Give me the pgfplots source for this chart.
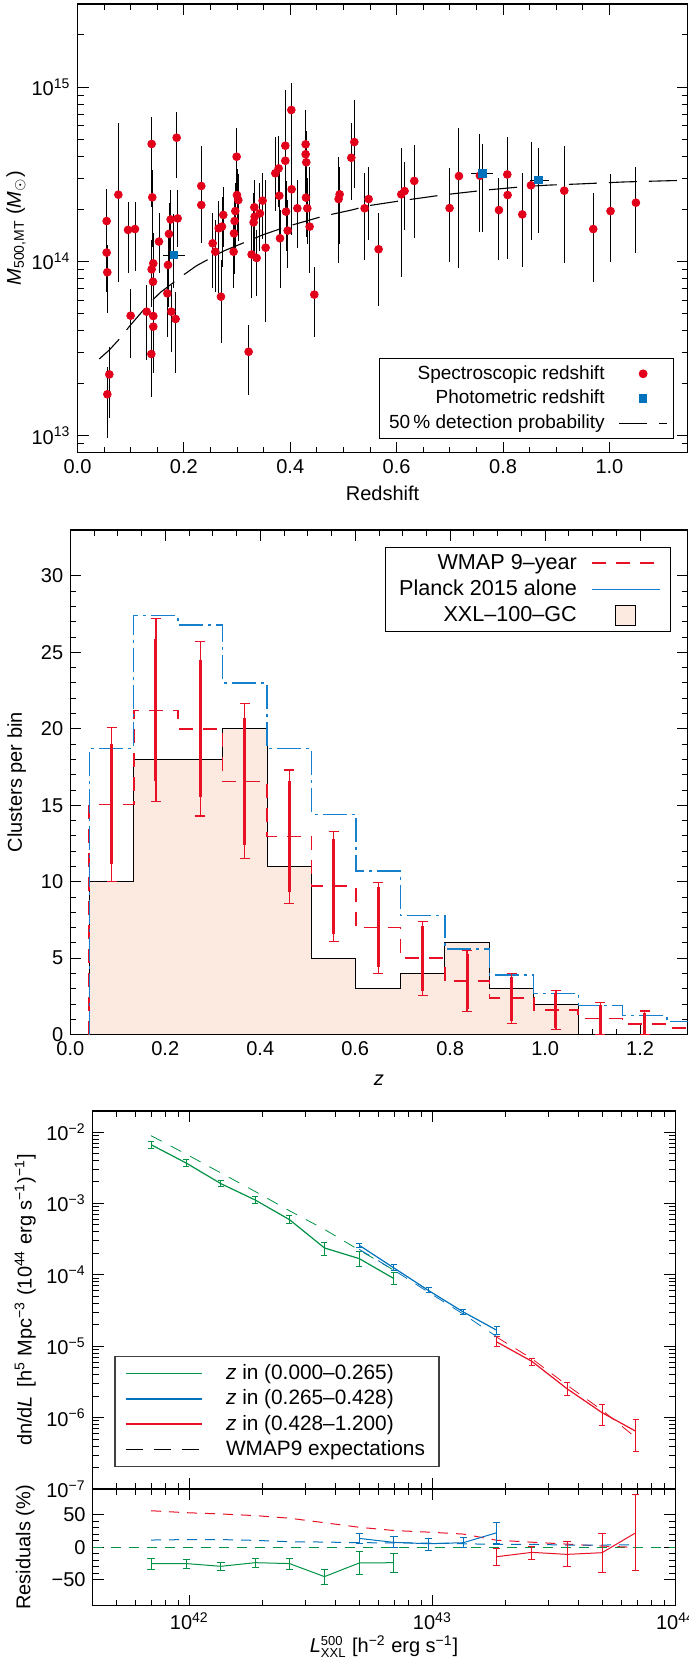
\documentclass[border=0pt]{standalone}
\usepackage{fontspec}
\setmainfont{Liberation Sans}
\usepackage{pgfplots}
\usepackage{pgfplotstable}
\pgfplotsset{compat=1.18}
\definecolor{cred}{RGB}{226,0,26}
\definecolor{cblue}{RGB}{0,114,188}
\definecolor{hblue}{RGB}{22,128,204}
\definecolor{cgreen}{RGB}{0,146,69}
\definecolor{peach}{RGB}{252,234,225}
\definecolor{rred}{RGB}{232,16,36}

\pgfplotstableread{
z lm lo hi
0.0548 14.232 14.094 14.416
0.0548 14.051 13.827 14.181
0.0560 13.938 13.702 14.094
0.0561 13.238 12.986 13.397
0.0598 13.352 13.100 13.511
0.0768 14.383 13.880 14.793
0.0950 14.181 13.932 14.339
0.1081 14.186 13.947 14.343
0.0999 13.689 13.444 13.844
0.1300 13.712 13.435 13.865
0.1394 14.674 14.314 14.827
0.1406 14.368 14.085 14.525
0.1425 13.989 13.779 14.161
0.1394 13.955 13.741 14.123
0.1419 13.884 13.655 14.008
0.1425 13.687 13.435 13.846
0.1425 13.626 13.358 13.779
0.1388 13.469 13.224 13.636
0.1532 14.114 13.932 14.280
0.1701 13.980 13.741 14.161
0.1720 14.158 13.970 14.337
0.1751 14.241 14.056 14.410
0.1689 13.817 13.568 13.970
0.1764 13.712 13.482 13.865
0.1845 13.670 13.358 13.827
0.1864 14.710 14.477 14.860
0.1883 14.247 14.085 14.410
0.2327 14.433 14.123 14.662
0.2327 14.324 14.104 14.520
0.2541 14.104 13.846 14.276
0.2591 14.056 13.827 14.238
0.2654 14.190 13.817 14.349
0.2716 14.200 13.970 14.370
0.2741 14.267 14.085 14.429
0.2697 13.798 13.530 14.008
0.2935 14.056 13.846 14.238
0.2942 14.161 13.930 14.330
0.2954 14.232 13.990 14.400
0.2967 14.289 14.080 14.450
0.2992 14.601 14.352 14.764
0.2998 14.381 14.170 14.530
0.3023 14.352 14.120 14.500
0.3217 13.482 13.234 13.636
0.3273 14.040 13.789 14.238
0.3311 14.224 14.000 14.390
0.3330 14.257 14.030 14.420
0.3324 14.311 14.100 14.470
0.3368 14.020 13.800 14.180
0.3430 14.276 14.060 14.450
0.3480 14.349 14.130 14.510
0.3537 14.079 13.655 14.467
0.3719 14.506 14.290 14.716
0.3781 14.534 14.310 14.720
0.3794 14.377 14.120 14.550
0.3807 14.133 13.846 14.295
0.3907 14.664 14.400 14.984
0.3907 14.578 14.300 14.770
0.3920 14.286 14.060 14.460
0.3951 14.177 13.960 14.350
0.4026 14.414 14.150 14.600
0.4020 14.869 14.550 15.022
0.4133 14.305 14.080 14.470
0.4289 14.672 14.450 14.869
0.4289 14.615 14.380 14.800
0.4301 14.569 14.340 14.750
0.4295 14.366 14.140 14.540
0.4320 14.305 14.100 14.480
0.4364 14.200 13.932 14.544
0.4452 13.810 13.568 13.970
0.4909 14.358 13.989 14.601
0.4928 14.385 14.100 14.540
0.5147 14.595 14.352 14.793
0.5204 14.685 14.420 14.926
0.5398 14.305 14.008 14.506
0.5473 14.358 14.123 14.544
0.5661 14.070 13.747 14.276
0.6087 14.385 13.913 14.649
0.6149 14.404 14.180 14.570
0.6331 14.462 14.133 14.668
0.6995 14.306 13.999 14.534
0.7171 14.490 13.961 14.764
0.7566 14.492 14.167 14.731
0.7923 14.295 14.008 14.477
0.8080 14.499 14.190 14.712
0.8086 14.381 14.014 14.700
0.8362 14.270 13.970 14.506
0.8525 14.437 14.123 14.687
0.9151 14.406 13.989 14.662
0.9696 14.186 13.884 14.391
1.0021 14.289 13.999 14.502
1.0498 14.337 14.051 14.544
}\spec

\pgfplotstableread{
z zlo zhi lm lo hi
0.1814 0.161 0.202 14.037 13.850 14.270
0.7610 0.740 0.782 14.505 14.170 14.672
0.8660 0.851 0.887 14.467 14.165 14.653
}\phot

\pgfplotstableread{
z lm
0.041 13.441
0.0598 13.492
0.0799 13.559
0.0987 13.632
0.135 13.760
0.156 13.823
0.2008 13.926
0.224 13.976
0.274 14.059
0.352 14.157
0.399 14.205
0.462 14.260
0.515 14.295
0.547 14.320
0.603 14.346
0.685 14.381
0.769 14.410
0.838 14.429
0.885 14.438
0.938 14.444
1.026 14.456
1.110 14.463
1.147 14.466
}\detect

\pgfplotstableread{
c m olo ohi ilo ihi
0.0868 15.05 10.0 20.1 11.15 19.0
0.1804 21.2 15.25 27.2 16.6 25.85
0.2740 20.0 14.3 25.7 15.55 24.5
0.3676 16.55 11.5 21.65 12.4 20.7
0.4612 12.95 8.6 17.3 9.3 16.6
0.5548 9.7 6.1 13.3 6.6 12.8
0.6484 7.0 4.0 9.95 4.4 9.65
0.7420 5.0 2.55 7.4 2.85 7.1
0.8356 3.5 1.5 5.5 1.7 5.25
0.9292 2.4 0.75 4.0 0.9 3.8
1.0228 1.6 0.32 2.9 0.4 2.7
1.1164 1.05 0.0 2.1 0.0 1.95
1.2100 0.7 0.0 1.55 0.0 1.4
}\errs

\pgfplotstableread{
L y lo hi m
6.96e41 6.65e-3 5.97e-3 7.40e-3 8.88e-3
9.71e41 3.68e-3 3.30e-3 4.10e-3 4.90e-3
1.349e42 1.89e-3 1.73e-3 2.08e-3 2.67e-3
1.866e42 1.117e-3 9.93e-4 1.257e-3 1.47e-3
2.582e42 5.93e-4 5.21e-4 6.75e-4 7.90e-4
3.597e42 2.38e-4 1.86e-4 2.88e-4 4.33e-4
5.0e42 1.687e-4 1.315e-4 2.14e-4 2.22e-4
6.95e42 8.85e-5 7.3e-5 1.085e-4 1.16e-4
}\gmain

\pgfplotstableread{
L y lo hi m
5.0e42 2.59e-4 2.38e-4 2.79e-4 2.28e-4
6.95e42 1.247e-4 1.146e-4 1.39e-4 1.16e-4
9.66e42 6.01e-5 5.57e-5 6.55e-5 5.68e-5
1.34e43 3.02e-5 2.77e-5 3.26e-5 2.82e-5
1.84e43 1.675e-5 1.456e-5 1.905e-5 1.36e-5
}\bmain

\pgfplotstableread{
L y lo hi m
1.84e43 1.148e-5 9.98e-6 1.377e-5 1.34e-5
2.565e43 6.15e-6 5.35e-6 6.84e-6 6.70e-6
3.58e43 2.54e-6 2.05e-6 3.15e-6 2.85e-6
4.99e43 1.175e-6 7.82e-7 1.535e-6 1.27e-6
6.87e43 6.44e-7 3.32e-7 9.38e-7 5.26e-7
}\rmain

\pgfplotstableread{
L r lo hi
6.96e41 -25.1 -33.8 -17.4
9.71e41 -25.0 -32.3 -19.0
1.349e42 -29.2 -36.4 -23.1
1.866e42 -23.6 -31.8 -16.4
2.582e42 -25.0 -33.8 -16.9
3.597e42 -45.1 -56.9 -33.8
5.0e42 -24.1 -42.6 -6.7
6.95e42 -23.6 -38.5 -9.2
}\gres

\pgfplotstableread{
L r lo hi
5.0e42 13.8 6.7 21.0
6.95e42 7.7 -0.5 17.4
9.66e42 5.6 -5.1 14.4
1.34e43 7.2 0.0 14.9
1.84e43 22.6 6.2 39.0
}\bres

\pgfplotstableread{
L r lo hi
1.84e43 -14.4 -28.7 -1.5
2.565e43 -7.7 -18.5 1.0
3.58e43 -10.8 -29.7 8.7
4.99e43 -8.2 -38.5 21.5
6.87e43 22.6 -35.9 82.0
}\rres

\pgfplotstableread{
L rd bd
6.96e41 56.5 11.3
9.71e41 53.5 12.0
1.349e42 51.5 12.0
1.866e42 49.0 10.8
2.582e42 45.0 8.7
3.597e42 38.0 8.2
5.0e42 31.0 7.2
6.95e42 26.0 7.0
9.66e42 23.5 6.5
1.34e43 20.5 5.6
1.84e43 11.0 4.6
2.565e43 8.0 4.6
3.58e43 5.0 3.6
4.99e43 2.0 3.6
6.87e43 0.0 4.0
}\resmod

\pgfplotsset{
  mystyle/.style={
    scale only axis,
    axis line style={line width=0.6pt},
    tick align=inside,
    major tick length=5.5pt,
    minor tick length=3pt,
    major tick style={black, line width=0.5pt},
    minor tick style={black, line width=0.45pt},
    tick label style={font=\fontsize{10}{12}\selectfont},
    label style={font=\fontsize{10}{12}\selectfont},
  },
  markimg/.style={legend image code/.code={\draw[mark repeat=2, mark phase=2, ##1, only marks] plot coordinates {(0pt,0pt) (12pt,0pt) (24pt,0pt)};}},
  lineimgA/.style={legend image code/.code={\draw[##1] (0pt,0pt) -- (24pt,0pt);}},
  lineimgB/.style={legend image code/.code={\draw[##1] (0pt,0pt) -- (34pt,0pt);}},
  lineimgBsolid/.style={legend image code/.code={\draw[##1, solid] (0pt,0pt) -- (34pt,0pt);}},
  xxlimg/.style={legend image code/.code={\draw[##1] (12pt,-5pt) rectangle (22pt,5pt); \path[draw=none, fill=none] (0pt,0pt) -- (34pt,0pt);}},
  lineimgC/.style={legend image code/.code={\draw[##1] (0pt,0pt) -- (38pt,0pt);}},
}

\begin{document}
\begin{tikzpicture}
\useasboundingbox (0,0) rectangle (344.5pt,-831.5pt);

% ---------------- TOP PANEL ----------------
\begin{axis}[mystyle,
  at={(38.75pt,-226.35pt)}, anchor=south west,
  width=305.05pt, height=224.35pt,
  xmin=0, xmax=1.147, ymode=log, ymin=8e12, ymax=3e15,
  xtick={0,0.2,0.4,0.6,0.8,1.0}, xticklabels={0.0,0.2,0.4,0.6,0.8,1.0},
  minor x tick num=3,
  ytick={1e13,1e14,1e15},
  yticklabels={10\textsuperscript{13},10\textsuperscript{14},10\textsuperscript{15}},
  minor ytick={9e12,2e13,3e13,4e13,5e13,6e13,7e13,8e13,9e13,2e14,3e14,4e14,5e14,6e14,7e14,8e14,9e14,2e15},
  xlabel={Redshift},
  ylabel={\textit{M}\textsubscript{500,MT} (\textit{M}\textsubscript{$\odot$})},
  every axis x label/.style={at={(axis description cs:0.5,-0.09)}, anchor=center},
  every axis y label/.style={at={(axis description cs:-0.1008,0.5)}, anchor=center, rotate=90},
  legend plot pos=right, legend cell align=right,
  legend style={at={(0.978,0.030)}, anchor=south east, draw=black, line width=0.5pt,
    font=\fontsize{9.5}{11}\selectfont, inner xsep=3pt, inner ysep=1.5pt, row sep=0pt,
    /tikz/every odd column/.append style={column sep=5pt}},
]
\addplot[only marks, mark=*, mark size=1.95pt, mark options={draw=cred, fill=cred, solid}, markimg,
  error bars/.cd, y dir=both, y explicit, error bar style={draw=black, line width=0.45pt, solid}, error mark=none]
  table[x=z, y expr={10^\thisrow{lm}}, y error plus expr={10^\thisrow{hi}-10^\thisrow{lm}}, y error minus expr={10^\thisrow{lm}-10^\thisrow{lo}}] {\spec};
\addlegendentry{Spectroscopic redshift}
\addplot[only marks, mark=square*, mark size=1.9pt, mark options={draw=cblue, fill=cblue, solid}, markimg,
  error bars/.cd, y dir=both, y explicit, x dir=both, x explicit, error bar style={draw=black, line width=0.5pt, solid}, error mark=none]
  table[x=z, y expr={10^\thisrow{lm}}, y error plus expr={10^\thisrow{hi}-10^\thisrow{lm}}, y error minus expr={10^\thisrow{lm}-10^\thisrow{lo}},
        x error plus expr={\thisrow{zhi}-\thisrow{z}}, x error minus expr={\thisrow{z}-\thisrow{zlo}}] {\phot};
\addlegendentry{Photometric redshift}
\addplot[black, line width=0.55pt, dash pattern=on 14pt off 6pt, lineimgA]
  table[x=z, y expr={10^\thisrow{lm}}] {\detect};
\addlegendentry{50\,\% detection probability}
\end{axis}

% ---------------- MIDDLE PANEL ----------------
\begin{axis}[mystyle,
  at={(35.15pt,-517.3pt)}, anchor=south west,
  width=308.65pt, height=252.3pt,
  xmin=0, xmax=1.3, ymin=0, ymax=33,
  xtick={0,0.2,0.4,0.6,0.8,1.0,1.2}, xticklabels={0.0,0.2,0.4,0.6,0.8,1.0,1.2},
  minor x tick num=3,
  ytick={0,5,10,15,20,25,30}, yticklabels={0,5,10,15,20,25,30},
  minor y tick num=4,
  xlabel={\textit{z}}, ylabel={Clusters per bin},
  every axis x label/.style={at={(axis description cs:0.5,-0.09)}, anchor=center},
  every axis y label/.style={at={(axis description cs:-0.0868,0.5)}, anchor=center, rotate=90},
  legend plot pos=right, legend cell align=right,
  legend style={at={(0.973,0.967)}, anchor=north east, draw=black, line width=0.5pt,
    font=\fontsize{10.8}{12.5}\selectfont, inner xsep=5pt, inner ysep=1.5pt, row sep=0pt,
    /tikz/every odd column/.append style={column sep=5pt}},
]
\addplot[const plot, fill=peach, draw=black, line width=0.5pt, forget plot]
  coordinates {(0.04,0) (0.04,10) (0.1336,18) (0.2272,18) (0.3208,20) (0.4144,11) (0.508,5) (0.6016,3) (0.6952,4) (0.7888,6) (0.8824,3) (0.976,2) (1.0696,0) (1.3,0)} \closedcycle;
\addplot[rred, line width=0.8pt, const plot, dash pattern=on 7pt off 5pt, lineimgB]
  coordinates {(0.04,0) (0.04,15.05) (0.1336,21.2) (0.2272,20.0) (0.3208,16.55) (0.4144,12.95) (0.508,9.7) (0.6016,7.0) (0.6952,5.0) (0.7888,3.5) (0.8824,2.4) (0.976,1.6) (1.0696,1.05) (1.1632,0.7) (1.2568,0.45) (1.3504,0.45)};
\addlegendentry{WMAP 9–year}
\addplot[hblue, line width=0.7pt, const plot, dash pattern=on 12pt off 2.5pt on 1.5pt off 2.5pt, lineimgBsolid]
  coordinates {(0.04,0) (0.04,18.7) (0.1336,27.4) (0.2272,26.8) (0.3208,23.0) (0.4144,18.7) (0.508,14.4) (0.6016,10.7) (0.6952,7.8) (0.7888,5.6) (0.8824,3.9) (0.976,2.7) (1.0696,1.9) (1.1632,1.25) (1.2568,0.85) (1.3504,0.85)};
\addlegendentry{Planck 2015 alone}
\addlegendimage{draw=black, fill=peach, line width=0.5pt, xxlimg}
\addlegendentry{XXL–100–GC}
\addplot[only marks, mark=*, mark size=0pt, mark options={draw=none, fill=none}, forget plot,
  error bars/.cd, y dir=both, y explicit,
  error bar style={draw=rred, line width=0.6pt, solid},
  error mark options={rotate=90, mark size=2.5pt, draw=rred, line width=0.6pt, solid}]
  table[x=c, y=m, y error plus expr={\thisrow{ohi}-\thisrow{m}}, y error minus expr={\thisrow{m}-\thisrow{olo}}] {\errs};
\addplot[only marks, mark=*, mark size=0pt, mark options={draw=none, fill=none}, forget plot,
  error bars/.cd, y dir=both, y explicit,
  error bar style={draw=rred, line width=1.5pt, solid}, error mark=none]
  table[x=c, y=m, y error plus expr={\thisrow{ihi}-\thisrow{m}}, y error minus expr={\thisrow{m}-\thisrow{ilo}}] {\errs};
\end{axis}

% ---------------- BOTTOM MAIN PANEL ----------------
\begin{axis}[mystyle,
  at={(46.25pt,-744.5pt)}, anchor=south west,
  width=291.4pt, height=189pt,
  xmode=log, ymode=log, xmin=4e41, xmax=1e44, ymin=1e-7, ymax=0.0197,
  xtick={1e42,1e43,1e44}, xticklabels={},
  minor xtick={5e41,6e41,7e41,8e41,9e41,2e42,3e42,4e42,5e42,6e42,7e42,8e42,9e42,2e43,3e43,4e43,5e43,6e43,7e43,8e43,9e43},
  ytick={1e-7,1e-6,1e-5,1e-4,1e-3,1e-2},
  yticklabels={10\textsuperscript{−7},10\textsuperscript{−6},10\textsuperscript{−5},10\textsuperscript{−4},10\textsuperscript{−3},10\textsuperscript{−2}},
  minor ytick={2e-7,3e-7,4e-7,5e-7,6e-7,7e-7,8e-7,9e-7,2e-6,3e-6,4e-6,5e-6,6e-6,7e-6,8e-6,9e-6,2e-5,3e-5,4e-5,5e-5,6e-5,7e-5,8e-5,9e-5,2e-4,3e-4,4e-4,5e-4,6e-4,7e-4,8e-4,9e-4,2e-3,3e-3,4e-3,5e-3,6e-3,7e-3,8e-3,9e-3},
  ylabel={dn/d\textit{L}\, [h\textsuperscript{5} Mpc\textsuperscript{−3} (10\textsuperscript{44} erg s\textsuperscript{−1})\textsuperscript{−1}]},
  every axis y label/.style={at={(axis description cs:-0.1158,0.5)}, anchor=center, rotate=90},
  legend cell align=left,
  lineimgC,
  legend style={at={(0.0372,0.059)}, anchor=south west, draw=black!75, line width=0.6pt,
    font=\fontsize{10.4}{12}\selectfont, inner xsep=5pt, inner ysep=2pt, row sep=-0.5pt,
    /tikz/every odd column/.append style={column sep=10pt}},
]
\addplot[cgreen, line width=0.6pt, mark=none,
  error bars/.cd, y dir=both, y explicit, error bar style={line width=0.5pt, solid},
  error mark options={rotate=90, mark size=1.5pt, line width=0.5pt, solid}]
  table[x=L, y=y, y error plus expr={\thisrow{hi}-\thisrow{y}}, y error minus expr={\thisrow{y}-\thisrow{lo}}] {\gmain};
\addlegendentry{\textit{z} in (0.000–0.265)}
\addplot[cblue, line width=0.6pt, mark=none,
  error bars/.cd, y dir=both, y explicit, error bar style={line width=0.5pt, solid},
  error mark options={rotate=90, mark size=1.5pt, line width=0.5pt, solid}]
  table[x=L, y=y, y error plus expr={\thisrow{hi}-\thisrow{y}}, y error minus expr={\thisrow{y}-\thisrow{lo}}] {\bmain};
\addlegendentry{\textit{z} in (0.265–0.428)}
\addplot[rred, line width=0.6pt, mark=none,
  error bars/.cd, y dir=both, y explicit, error bar style={line width=0.5pt, solid},
  error mark options={rotate=90, mark size=1.5pt, line width=0.5pt, solid}]
  table[x=L, y=y, y error plus expr={\thisrow{hi}-\thisrow{y}}, y error minus expr={\thisrow{y}-\thisrow{lo}}] {\rmain};
\addlegendentry{\textit{z} in (0.428–1.200)}
\addplot[cgreen, line width=0.4pt, dash pattern=on 6pt off 5pt, forget plot] table[x=L, y=m] {\gmain};
\addplot[cblue, line width=0.4pt, dash pattern=on 6pt off 5pt, forget plot] table[x=L, y=m] {\bmain};
\addplot[rred, line width=0.4pt, dash pattern=on 6pt off 5pt, forget plot] table[x=L, y=m] {\rmain};
\addlegendimage{black, line width=0.5pt, dash pattern=on 8.5pt off 5.5pt}
\addlegendentry{WMAP9 expectations}
\end{axis}

% ---------------- RESIDUAL PANEL ----------------
\begin{axis}[mystyle,
  at={(46.25pt,-802.85pt)}, anchor=south west,
  width=291.4pt, height=58.35pt,
  xmode=log, xmin=4e41, xmax=1e44, ymin=-90, ymax=90,
  xtick={1e42,1e43,1e44},
  xticklabels={10\textsuperscript{42},10\textsuperscript{43},10\textsuperscript{44}},
  minor xtick={5e41,6e41,7e41,8e41,9e41,2e42,3e42,4e42,5e42,6e42,7e42,8e42,9e42,2e43,3e43,4e43,5e43,6e43,7e43,8e43,9e43},
  ytick={-50,0,50}, yticklabels={−50,0,50},
  minor y tick num=4,
  xlabel={\textit{L}$^{\mbox{\fontsize{6.5}{7}\selectfont 500}}_{\mbox{\fontsize{6.5}{7}\selectfont XXL}}$ [h\textsuperscript{−2} erg s\textsuperscript{−1}]},
  ylabel={Residuals (\%)},
  every axis x label/.style={at={(axis description cs:0.5,-0.40)}, anchor=base},
  every axis y label/.style={at={(axis description cs:-0.1158,0.5)}, anchor=center, rotate=90},
]
\addplot[cgreen, line width=0.45pt, dash pattern=on 5pt off 4pt] coordinates {(4e41,0) (1e44,0)};
\addplot[rred, line width=0.5pt, dash pattern=on 5pt off 4pt] table[x=L, y=rd] {\resmod};
\addplot[cblue, line width=0.5pt, dash pattern=on 5pt off 4pt] table[x=L, y=bd] {\resmod};
\addplot[cgreen, line width=0.5pt, mark=none,
  error bars/.cd, y dir=both, y explicit, error bar style={line width=0.5pt, solid},
  error mark options={rotate=90, mark size=1.8pt, line width=0.5pt, solid}]
  table[x=L, y=r, y error plus expr={\thisrow{hi}-\thisrow{r}}, y error minus expr={\thisrow{r}-\thisrow{lo}}] {\gres};
\addplot[cblue, line width=0.5pt, mark=none,
  error bars/.cd, y dir=both, y explicit, error bar style={line width=0.5pt, solid},
  error mark options={rotate=90, mark size=1.8pt, line width=0.5pt, solid}]
  table[x=L, y=r, y error plus expr={\thisrow{hi}-\thisrow{r}}, y error minus expr={\thisrow{r}-\thisrow{lo}}] {\bres};
\addplot[rred, line width=0.5pt, mark=none,
  error bars/.cd, y dir=both, y explicit, error bar style={line width=0.5pt, solid},
  error mark options={rotate=90, mark size=1.8pt, line width=0.5pt, solid}]
  table[x=L, y=r, y error plus expr={\thisrow{hi}-\thisrow{r}}, y error minus expr={\thisrow{r}-\thisrow{lo}}] {\rres};
\end{axis}
\end{tikzpicture}
\end{document}
